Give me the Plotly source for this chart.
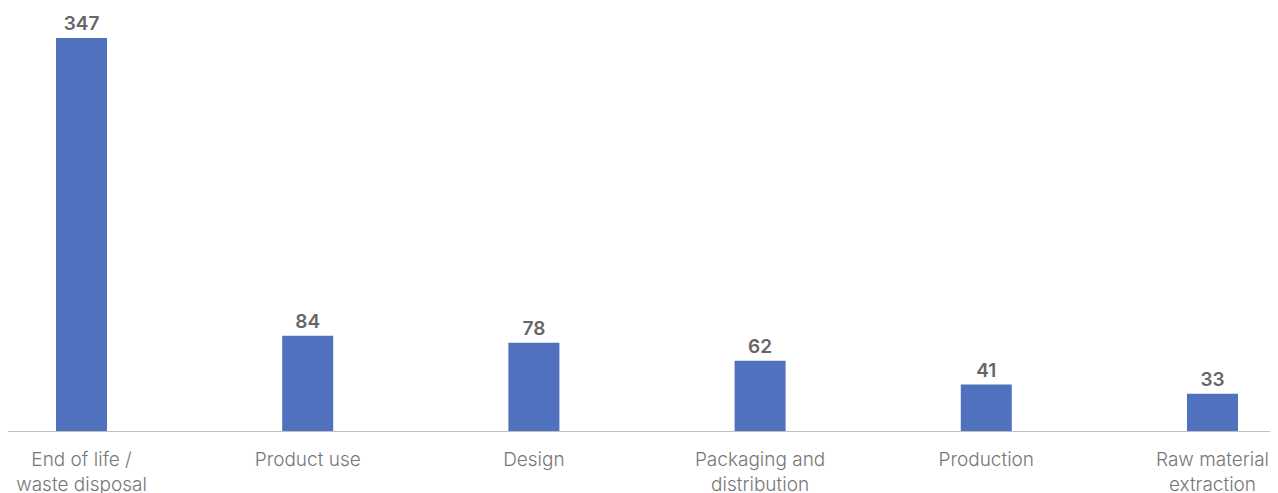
import plotly.graph_objects as go

categories = ["End of life /<br>waste disposal", "Product use", "Design",
              "Packaging and<br>distribution", "Production", "Raw material<br>extraction"]
values = [347, 84, 78, 62, 41, 33]

fig = go.Figure(go.Bar(
    x=list(range(len(categories))), y=values,
    marker=dict(color="#4f71be", line=dict(width=0)),
    width=0.2255,
    text=[str(v) for v in values], textposition="outside",
    textfont=dict(family="Inter, Roboto, sans-serif", size=19, color="#666666", weight=600),
    cliponaxis=False,
))

fig.update_layout(
    width=1278, height=493,
    margin=dict(l=0, r=0, t=0, b=70),
    paper_bgcolor="white", plot_bgcolor="white",
    showlegend=False,
    xaxis=dict(range=[-0.325, 5.325], tickmode="array",
               tickvals=list(range(len(categories))), ticktext=categories,
               showline=True, linecolor="#bfbfbf", linewidth=1,
               showgrid=False, zeroline=False, ticks="", ticklabelstandoff=11,
               tickfont=dict(family="Inter, Roboto, sans-serif", size=19, color="#777777", weight=300)),
    yaxis=dict(range=[0, 373.5], visible=False, showgrid=False, zeroline=False),
)

fig.write_html("out.html")
